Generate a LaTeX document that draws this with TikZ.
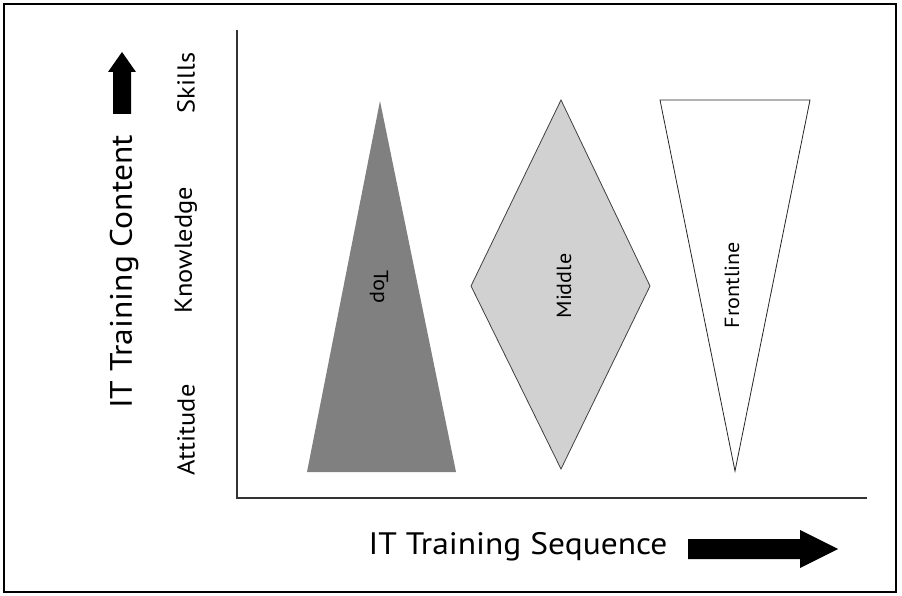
\documentclass[tikz,border=0pt]{standalone}
\usepackage{fontspec}
\setmainfont[FakeStretch=1.08]{PT Sans}
\begin{document}
\begin{tikzpicture}[x=1pt,y=-1pt,
  lab/.style={inner sep=0pt, font=\fontsize{31}{33}\selectfont},
  lvl/.style={inner sep=0pt, font=\fontsize{24.5}{26}\selectfont, rotate=90},
  inlab/.style={inner sep=0pt, font=\fontsize{20.5}{22}\selectfont},
  bigarrow/.style={fill=black, draw=none},
  axis/.style={draw=black!80, line width=1.4pt}]
\useasboundingbox (0,0) rectangle (902,596);
\fill[white] (0,0) rectangle (902,596);
\draw[line width=1.5pt] (4,4) rectangle (896,592);
% axes
\coordinate (ytop) at (237,30);
\coordinate (orig) at (237,498);
\coordinate (xend) at (867,498);
\draw[axis] (ytop) -- (orig) -- (xend);
% shapes
\fill[fill=black!50] (380,101) -- (456,472) -- (307,472) -- cycle;
\node[inlab, rotate=-90] (top) at (379,287) {Top};
\filldraw[fill=black!18, draw=black!75, line width=0.8pt] (561,100) -- (650,286) -- (561,469) -- (471,286) -- cycle;
\node[inlab, rotate=90] (mid) at (564,286) {Middle};
\filldraw[fill=white, draw=black!85, line width=0.8pt] (660,100) -- (810,100) -- (735,471) -- cycle;
\node[inlab, rotate=90] (front) at (732,285) {Frontline};
% left labels
\node[lab, rotate=90] (ytitle) at (124,272) {IT Training Content};
\node[lvl] (skills) at (186,83) {Skills};
\node[lvl] (know) at (186,250) {Knowledge};
\node[lvl] (att) at (186,430) {Attitude};
\fill[bigarrow] (113,114) -- (113,72) -- (108,72) -- (122,52) -- (136,72) -- (131,72) -- (131,114) -- cycle;
% bottom
\node[lab] (xtitle) at (518,547) {IT Training Sequence};
\fill[bigarrow] (688,539) -- (800,539) -- (800,530) -- (838,549) -- (800,568) -- (800,559) -- (688,559) -- cycle;
\end{tikzpicture}
\end{document}
